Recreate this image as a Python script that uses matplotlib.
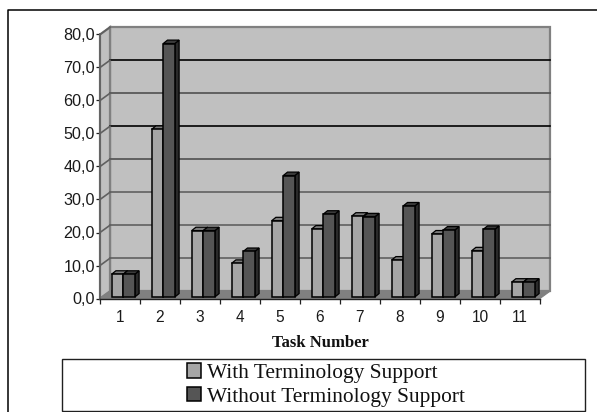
import numpy as np
import matplotlib
matplotlib.use('Agg')
import matplotlib.pyplot as plt
from matplotlib.patches import Polygon, Rectangle
from matplotlib.lines import Line2D

# values
tasks = ['1', '2', '3', '4', '5', '6', '7', '8', '9', '10', '11']
with_support = [6.9, 50.8, 20.1, 10.2, 23.1, 20.6, 24.5, 11.2, 19.1, 14.0, 4.5]
without_support = [6.9, 76.8, 20.1, 13.8, 36.8, 25.1, 24.3, 27.6, 20.3, 20.5, 4.5]
y_ticks = [0, 10, 20, 30, 40, 50, 60, 70, 80]
y_labels = ['0,0', '10,0', '20,0', '30,0', '40,0', '50,0', '60,0', '70,0', '80,0']
grid_colors = ['#606060', '#606060', '#606060', '#505050', '#000000', '#505050', '#000000']

W, H = 597, 412
fig = plt.figure(figsize=(W / 100, H / 100), dpi=100, facecolor='white')
ax = fig.add_axes([100 / W, 1 - 298.5 / H, 440 / W, 264 / H])
ax.set_xlim(0.5, 11.5)
ax.set_ylim(0, 80)
ax.patch.set_visible(False)

# fake 3d depth of the chart box, in data units
dx, dy = 0.25, 2.2
x0, x1 = 0.5, 11.5


def poly(points, face, edge='none', lw=0, z=1):
    ax.add_patch(Polygon(points, closed=True, facecolor=face, edgecolor=edge,
                         linewidth=lw, zorder=z, clip_on=False))


# walls and floor
poly([(x0 + dx, dy), (x1 + dx, dy), (x1 + dx, 80 + dy), (x0 + dx, 80 + dy)], '#c0c0c0', '#808080', 1.6)
poly([(x0, 0), (x0 + dx, dy), (x0 + dx, 80 + dy), (x0, 80)], '#c0c0c0', '#808080', 1.6)
poly([(x0, 0), (x1, 0), (x1 + dx, dy), (x0 + dx, dy)], '#808080', '#808080', 0.8)

# gridlines on the back and side wall
for v, c in zip(y_ticks[1:-1], grid_colors):
    ax.plot([x0 + dx, x1 + dx], [v + dy, v + dy], color=c, lw=1.2, zorder=2, clip_on=False)
for v in y_ticks[1:]:
    ax.plot([x0, x0 + dx], [v, v + dy], color='#606060', lw=1.2, zorder=2, clip_on=False)

# bars
x = np.arange(1, 12)
bar_w = 0.29
shift = 0.08
base = 0.45
bdx, bdy = 0.1075, 1.05


def draw_bars(xs, vals, face, top, side, label, z):
    for xi, v in zip(xs, vals):
        poly([(xi + bar_w / 2, base), (xi + bar_w / 2 + bdx, base + bdy),
              (xi + bar_w / 2 + bdx, base + v + bdy), (xi + bar_w / 2, base + v)],
             side, '#000000', 0.9, z)
        poly([(xi - bar_w / 2, base + v), (xi + bar_w / 2, base + v),
              (xi + bar_w / 2 + bdx, base + v + bdy), (xi - bar_w / 2 + bdx, base + v + bdy)],
             top, '#000000', 0.9, z)
    return ax.bar(xs, vals, bar_w, bottom=base, color=face, edgecolor='#000000',
                  linewidth=1.1, zorder=z + 0.5, label=label, clip_on=False)


b1 = draw_bars(x + shift - bar_w / 2, with_support, '#a6a6a6', '#7a7a7a', '#6a6a6a',
               'With Terminology Support', 3)
b2 = draw_bars(x + shift + bar_w / 2, without_support, '#555555', '#3a3a3a', '#2a2a2a',
               'Without Terminology Support', 4)

# axes
for s in ['top', 'right']:
    ax.spines[s].set_visible(False)
ax.spines['left'].set_color('#606060')
ax.spines['left'].set_linewidth(1.2)
ax.spines['bottom'].set_color('#202020')
ax.spines['bottom'].set_linewidth(1.0)
ax.spines['left'].set_zorder(2.5)
ax.spines['bottom'].set_zorder(2.5)

ax.set_yticks(y_ticks)
ax.set_yticklabels(y_labels, family='Liberation Sans', fontsize=11.6, color='#1a1a1a')
ax.set_xticks(np.arange(0.5, 12.5))
ax.set_xticklabels([])
ax.set_xticks(x, labels=tasks, minor=True, family='Liberation Sans', fontsize=11.2, color='#1a1a1a')
ax.tick_params(axis='y', length=3.0, width=0.9, pad=0.5, color='#202020')
ax.tick_params(axis='x', which='major', length=3.6, width=0.9, color='#202020')
ax.tick_params(axis='x', which='minor', length=0, pad=8)

fig.text(320 / W, 1 - 343 / H, 'Task Number', family='Liberation Serif', weight='bold',
         fontsize=12, ha='center', va='center', color='#111111')

# outer frame, runs off the picture on the right and bottom
fig.add_artist(Line2D([8 / W, 8 / W, 1], [0, 1 - 10 / H, 1 - 10 / H], color='#000000', lw=1.1))

# legend box and legend
fig.add_artist(Rectangle((62 / W, 1 - 410.5 / H), 523 / W, 51.5 / H, transform=fig.transFigure,
                         facecolor='white', edgecolor='#202020', linewidth=1.0))
leg = fig.legend(handles=[b1, b2], loc='center', bbox_to_anchor=(326 / W, 1 - 385 / H),
                 frameon=False, ncol=1, handlelength=0.65, handleheight=0.65, handletextpad=0.25,
                 labelspacing=0.19, borderpad=0, borderaxespad=0,
                 prop={'family': 'Liberation Serif', 'size': 15.4})
for t in leg.get_texts():
    t.set_color('#111111')

fig.savefig('out.png', dpi=100)
